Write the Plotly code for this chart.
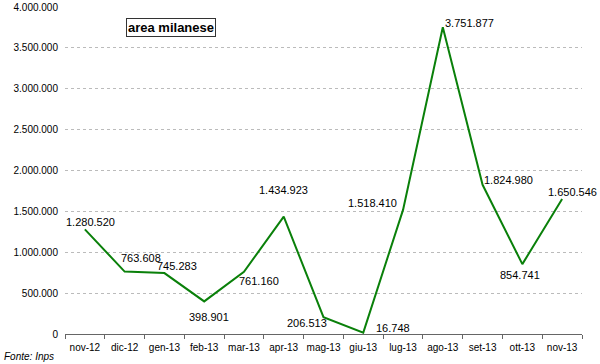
import plotly.graph_objects as go

months = ["nov-12", "dic-12", "gen-13", "feb-13", "mar-13", "apr-13", "mag-13",
          "giu-13", "lug-13", "ago-13", "set-13", "ott-13", "nov-13"]
values = [1280520, 763608, 745283, 398901, 761160, 1434923, 206513,
          16748, 1518410, 3751877, 1824980, 854741, 1650546]
y_ticks = [0, 500000, 1000000, 1500000, 2000000, 2500000, 3000000, 3500000, 4000000]

# label offsets in pixels (dx right, dy down)
offsets = [(6, -7), (16, -14), (13, -7), (5, 16), (15, 9), (0, -27), (-17, 6),
           (30, -5), (-31, -7), (27, -4), (26, -5), (-2, 11), (10, -7)]

def fmt(v):
    return f"{v:,}".replace(",", ".")

L, R, T, B = 65, 18, 7, 30
PW, PH = 600 - L - R, 364 - T - B

fig = go.Figure()
fig.add_trace(go.Scatter(x=months, y=values, mode="lines",
                         line=dict(color="#0a800a", width=2), hoverinfo="skip"))

for m, v, (dx, dy) in zip(months, values, offsets):
    fig.add_annotation(x=m, y=v, text=fmt(v), showarrow=False,
                       xshift=dx, yshift=-dy,
                       font=dict(family="Liberation Sans, Arial", size=11, color="#000"))

fig.add_annotation(xref="paper", yref="paper", x=(171 - L) / PW, y=(364 - B - 28) / PH,
                   xanchor="center", yanchor="middle",
                   text="<b>area milanese</b>", showarrow=False,
                   bordercolor="#333", borderwidth=1, borderpad=1, bgcolor="white",
                   font=dict(family="Liberation Sans, Arial", size=13, color="#000"))

fig.add_annotation(xref="paper", yref="paper", x=-(L - 2) / PW, y=-22 / PH,
                   xanchor="left", yanchor="middle",
                   text="<i>Fonte: Inps</i>", showarrow=False,
                   font=dict(family="Liberation Sans, Arial", size=10, color="#000"))

fig.update_layout(
    width=600, height=364,
    margin=dict(l=L, r=R, t=T, b=B, autoexpand=False),
    paper_bgcolor="white", plot_bgcolor="white",
    showlegend=False,
    font=dict(family="Liberation Sans, Arial", size=10, color="#000"),
    xaxis=dict(type="category", range=[-0.5, 12.5], tickson="boundaries",
               ticks="outside", ticklen=4, tickcolor="#666", showline=True,
               linecolor="#666", linewidth=1, showgrid=False, tickangle=0,
               ticklabelstandoff=4, automargin=False, tickfont=dict(size=10)),
    yaxis=dict(range=[0, 4000000], tickvals=y_ticks,
               ticktext=[fmt(t) for t in y_ticks], automargin=False,
               showgrid=True, gridcolor="#bbbbbb", griddash="dot", gridwidth=1,
               zeroline=False, showline=False, ticks="", ticklen=0,
               ticklabelstandoff=6, tickfont=dict(size=10)),
)

fig.write_html("out.html", config={"displayModeBar": False},
               post_script="document.body.style.margin='0';")
